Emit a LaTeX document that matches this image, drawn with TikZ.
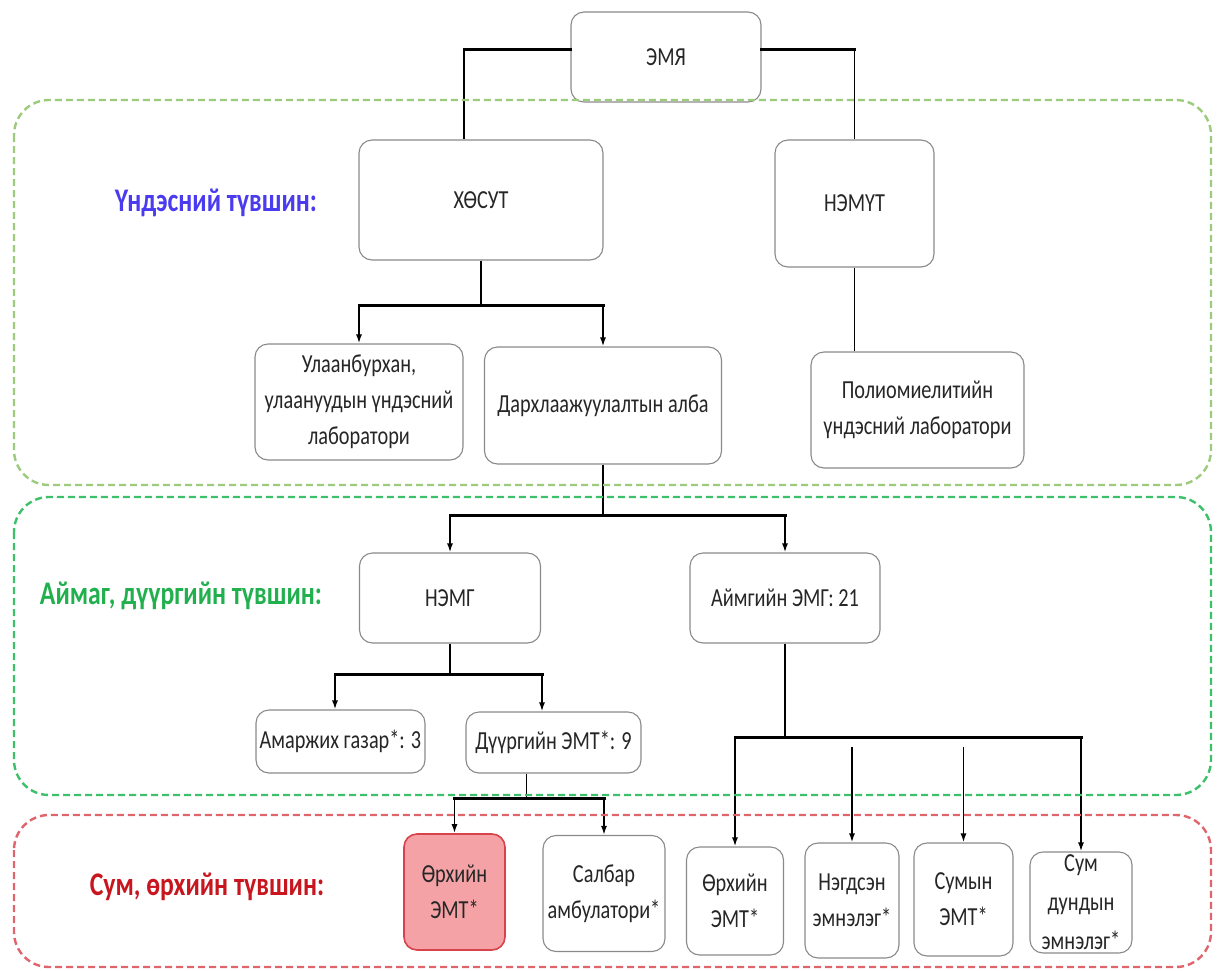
\documentclass[tikz,border=0pt]{standalone}
\usepackage{fontspec}
\setmainfont[FakeStretch=0.78]{Carlito}
\usetikzlibrary{arrows.meta}
\definecolor{regA}{HTML}{9CCB7E}
\definecolor{regB}{HTML}{3CC06A}
\definecolor{regC}{HTML}{E0646C}
\definecolor{lblue}{HTML}{4A3BEE}
\definecolor{lgreen}{HTML}{22B04E}
\definecolor{lred}{HTML}{C8161E}
\definecolor{boxgray}{HTML}{8A8A8A}
\definecolor{txt}{HTML}{262626}
\definecolor{pinkfill}{HTML}{F4A2A6}
\definecolor{pinkline}{HTML}{D8434B}
\newcommand\bxfont{\fontsize{26}{36}\selectfont}
\newcommand\lbfont{\fontsize{33}{36}\selectfont\bfseries}
\begin{document}
\begin{tikzpicture}[x=1pt,y=-1pt,
  box/.style={draw=boxgray, line width=1.1pt, rounded corners=13pt, fill=white,
    align=center, inner sep=2pt, font=\bxfont, text=txt},
  hot/.style={box, draw=pinkline, fill=pinkfill, line width=1.6pt},
  lab/.style={font=\lbfont, inner sep=0pt},
  region/.style={dash pattern=on 7pt off 4pt, line width=2.4pt, rounded corners=35pt},
  vline/.style={draw=black, line width=1.7pt},
  bus/.style={draw=black, line width=3pt, line cap=rect},
  arr/.style={vline, -{Latex[length=9pt,width=6pt]}}]
\useasboundingbox (0,0) rectangle (1219,970);

% boxes
\node[box, minimum width=190pt, minimum height=90pt] (emya) at (666,57) {ЭМЯ};
\node[box, minimum width=244pt, minimum height=120pt] (hosut) at (481,200) {ХӨСУТ};
\node[box, minimum width=159pt, minimum height=127pt] (nemut) at (854.5,203.5) {НЭМҮТ};
\node[box, minimum width=208pt, minimum height=116pt] (ulaan) at (359,402) {Улаанбурхан,\\улаануудын үндэсний\\лаборатори};
\node[box, minimum width=237pt, minimum height=117pt] (darh) at (603,405.5) {Дархлаажуулалтын алба};
\node[box, minimum width=213pt, minimum height=116pt] (polio) at (917.5,410) {Полиомиелитийн\\үндэсний лаборатори};
\node[box, minimum width=181pt, minimum height=90pt] (nemg) at (450,598) {НЭМГ};
\node[box, minimum width=190pt, minimum height=90pt] (aimg) at (785,598) {Аймгийн ЭМГ: 21};
\node[box, minimum width=169pt, minimum height=63pt] (amar) at (340.5,741.5) {Амаржих газар*: 3};
\node[box, minimum width=175pt, minimum height=61pt] (duur) at (553.5,742.5) {Дүүргийн ЭМТ*: 9};
\node[hot, minimum width=101pt, minimum height=116pt] (orh1) at (454.5,892) {Өрхийн\\ЭМТ*};
\node[box, minimum width=122pt, minimum height=116pt] (salbar) at (604,893.5) {Салбар\\амбулатори*};
\node[box, minimum width=97pt, minimum height=108pt] (orh2) at (735,901) {Өрхийн\\ЭМТ*};
\node[box, minimum width=94pt, minimum height=115pt] (negd) at (852,900.5) {Нэгдсэн\\эмнэлэг*};
\node[box, minimum width=99pt, minimum height=113pt] (sumyn) at (963.5,899.5) {Сумын\\ЭМТ*};
\node[box, minimum width=102pt, minimum height=101pt] (sumd) at (1081,902.5) {};
\node[font=\fontsize{26}{39}\selectfont, text=txt, align=center, inner sep=0pt] (sumdt) at (sumd.center) {Сум\\дундын\\эмнэлэг*};

% level labels
\node[lab, text=lblue] (l1) at (216,203) {Үндэсний түвшин:};
\node[lab, text=lgreen] (l2) at (181,596) {Аймаг, дүүргийн түвшин:};
\node[lab, text=lred] (l3) at (207,887) {Сум, өрхийн түвшин:};

% ЭМЯ -> ХӨСУТ, НЭМҮТ
\coordinate (eL) at ([yshift=8pt]emya.west);
\coordinate (eR) at ([yshift=8pt]emya.east);
\coordinate (hT) at ([xshift=-17pt]hosut.north);
\draw[vline] (eL) -| (hT);
\draw[bus] (eL) -- (eL -| hT);
\draw[vline] (eR) -| (nemut.north);
\draw[bus] (eR) -- (eR -| nemut.north);

% ХӨСУТ -> children
\coordinate (j1) at ([yshift=-45pt]hosut.south);
\draw[vline] (hosut.south) -- (j1);
\draw[bus] (j1 -| ulaan.north) -- (j1 -| darh.north);
\draw[arr] (j1 -| ulaan.north) -- (ulaan.north);
\draw[arr] (j1 -| darh.north) -- (darh.north);

% НЭМҮТ -> Полио
\draw[vline] (nemut.south) -- (nemut.south |- polio.north);

% Дархлаа -> НЭМГ, Аймгийн
\coordinate (j2) at ([yshift=-51pt]darh.south);
\draw[vline] (darh.south) -- (j2);
\draw[bus] (j2 -| nemg.north) -- (j2 -| aimg.north);
\draw[arr] (j2 -| nemg.north) -- (nemg.north);
\draw[arr] (j2 -| aimg.north) -- (aimg.north);

% НЭМГ -> Амаржих, Дүүргийн
\coordinate (j3) at ([yshift=-31pt]nemg.south);
\coordinate (amT) at ([xshift=-5.5pt]amar.north);
\coordinate (duT) at ([xshift=-11.5pt]duur.north);
\draw[vline] (nemg.south) -- (j3);
\draw[bus] (j3 -| amT) -- (j3 -| duT);
\draw[arr] (j3 -| amT) -- (amT);
\draw[arr] (j3 -| duT) -- (duT);

% Дүүргийн -> Өрхийн, Салбар
\coordinate (duB) at ([xshift=-27pt]duur.south);
\coordinate (j4) at ([yshift=-25pt]duB);
\draw[vline] (duB) -- (j4);
\draw[bus] (j4 -| orh1.north) -- (j4 -| salbar.north);
\draw[arr] (j4 -| orh1.north) -- (orh1.north);
\draw[arr] (j4 -| salbar.north) -- (salbar.north);

% Аймгийн -> сум level
\coordinate (j5) at ([yshift=-94pt]aimg.south);
\coordinate (j5b) at ([yshift=-9pt]j5);
\draw[vline] (aimg.south) -- (j5);
\draw[bus] (j5 -| orh2.north) -- (j5 -| sumd.north);
\draw[arr] (j5 -| orh2.north) -- (orh2.north);
\draw[arr] (j5b -| negd.north) -- (negd.north);
\draw[arr] (j5b -| sumyn.north) -- (sumyn.north);
\draw[arr] (j5 -| sumd.north) -- (sumd.north);

% level regions
\draw[region, draw=regA] (14,100) rectangle (1211,485);
\draw[region, draw=regB] (14,497) rectangle (1211,795);
\draw[region, draw=regC] (14,815) rectangle (1211,967);
\end{tikzpicture}
\end{document}
